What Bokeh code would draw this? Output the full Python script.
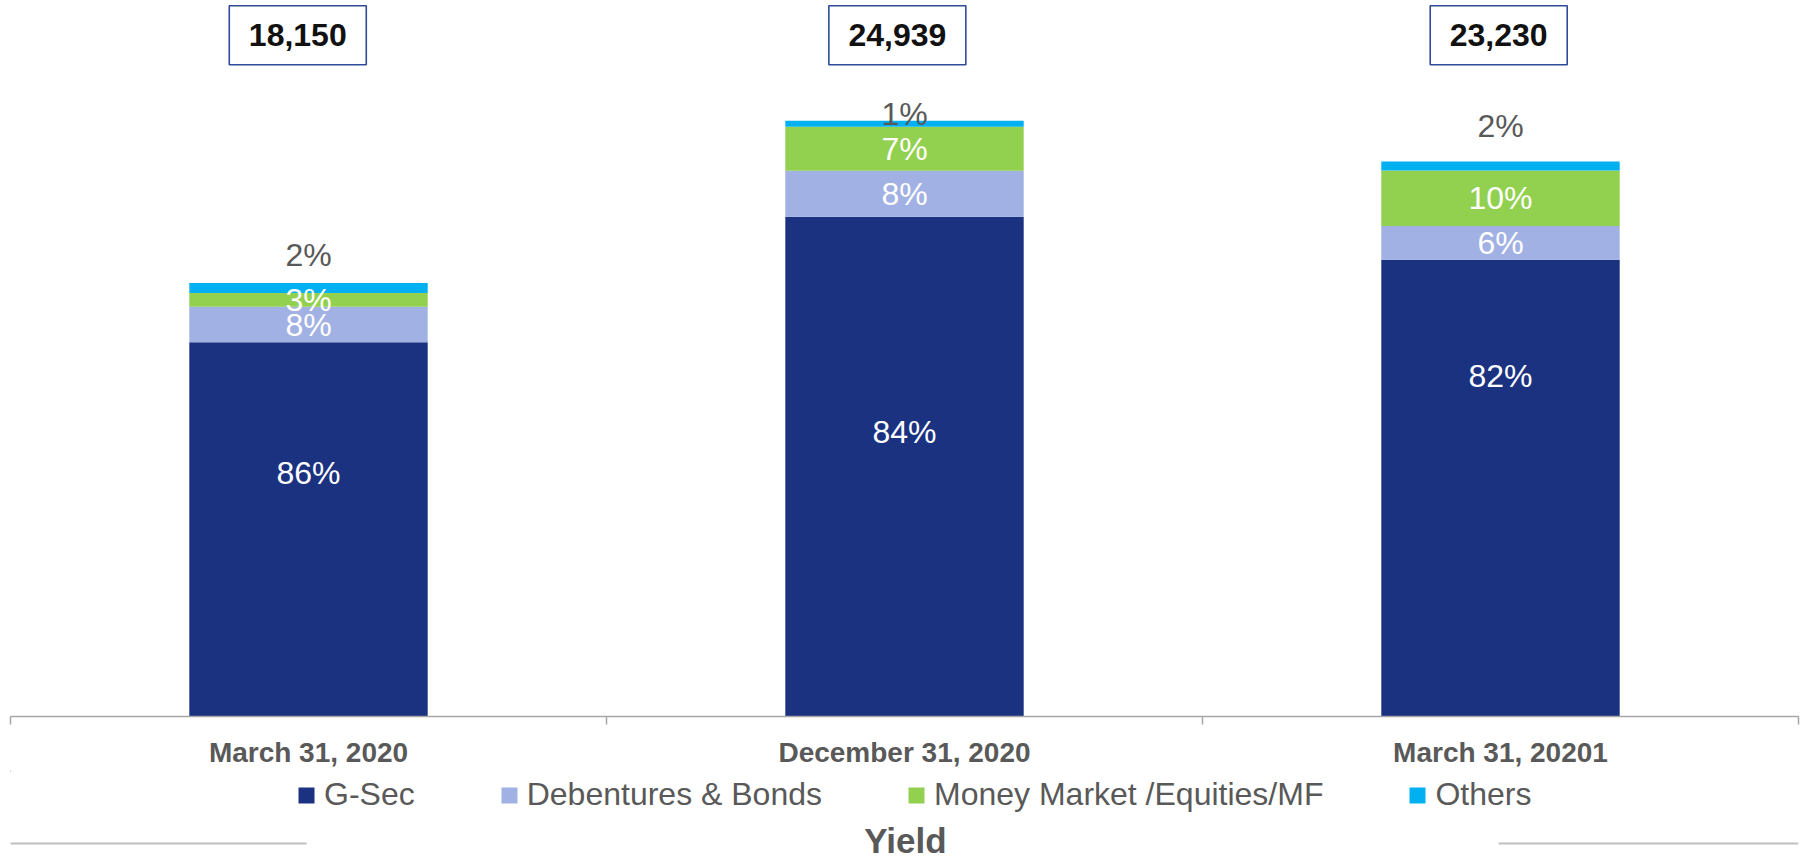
from bokeh.plotting import figure
from bokeh.models import ColumnDataSource, FixedTicker, Legend, LegendItem, Range1d
from bokeh.layouts import column
from bokeh.core.properties import value
from bokeh.embed import file_html
from bokeh.resources import INLINE

# ---------------- data ----------------
categories = ["March 31, 2020", "December 31, 2020", "March 31, 20201"]
totals = [18150, 24939, 23230]
series_names = ["G-Sec", "Debentures & Bonds", "Money Market /Equities/MF", "Others"]
g_sec = [86.3, 83.9, 82.3]          # % share
debentures = [8.2, 7.7, 6.1]
money_market = [3.2, 7.4, 10.0]
others = [2.3, 1.0, 1.6]

# ---------------- style ----------------
COLORS = ["#1B3281", "#A1B1E3", "#92D050", "#00B0F0"]
GREY = "#595959"
FONT = "Liberation Sans"
BAR_W = 0.4
GSEC_LABEL_FRAC = [0.65, 0.57, 0.745]   # label height inside the G-Sec segment
OTHERS_RAISE = [28, 7, 36]              # px above bar top for the "Others" label
BOX_DX = [-0.018, -0.012, -0.003]
FRAME_H = 720
Y_END = 29975
W = 1800

shares = [g_sec, debentures, money_market, others]
xs = [i + 0.5 for i in range(len(categories))]
keys = ["s0", "s1", "s2", "s3"]
data = {"x": xs}
for k, s in zip(keys, shares):
    data[k] = [t * v / 100.0 for t, v in zip(totals, s)]
src = ColumnDataSource(data)

p = figure(width=W, height=FRAME_H + 50, x_range=Range1d(0, 3), y_range=Range1d(0, Y_END),
           output_backend="svg", toolbar_location=None, y_axis_location=None,
           min_border_left=10, min_border_right=2, min_border_top=0, min_border_bottom=50)
p.outline_line_color = None
p.grid.visible = False

p.vbar_stack(keys, x="x", width=BAR_W, color=COLORS, line_color=None, source=src)

# percent labels
lx, ly, lt, lc, loff = [], [], [], [], []
for i in range(len(categories)):
    base = 0.0
    for j, k in enumerate(keys):
        h = data[k][i]
        if j == 0:
            y = base + h * GSEC_LABEL_FRAC[i]
            off = 0
            col = "white"
        elif j == 3:
            y = base + h
            off = -OTHERS_RAISE[i]
            col = GREY
        else:
            y = base + h / 2
            off = 0
            col = "white"
        lx.append(xs[i]); ly.append(y); lt.append(f"{round(shares[j][i])}%")
        lc.append(col); loff.append(off)
        base += h
lsrc = ColumnDataSource(dict(x=lx, y=ly, text=lt, color=lc, off=loff))
p.text(x="x", y="y", text="text", source=lsrc, text_color="color", y_offset="off",
       text_align="center", text_baseline="middle", text_font=value(FONT),
       text_font_size="32px")

# total boxes
box_y = Y_END * (1 - 35 / FRAME_H)
bx = [x + d for x, d in zip(xs, BOX_DX)]
bsrc = ColumnDataSource(dict(x=bx, y=[box_y] * 3, text=[f"{t:,}" for t in totals]))
p.rect(x="x", y="y", width=137, height=59, width_units="screen", height_units="screen",
       fill_color="white", line_color="#2F4A9A", line_width=1.6, source=bsrc)
p.text(x="x", y="y", text="text", source=bsrc, text_align="center", text_baseline="middle",
       text_font=value(FONT), text_font_style="bold", text_font_size="32px", text_color="#111111")

# axis
ax = p.xaxis[0]
ax.ticker = FixedTicker(ticks=xs, minor_ticks=[0, 1, 2, 3])
ax.major_label_overrides = {x: c for x, c in zip(xs, categories)}
ax.major_tick_line_color = None
ax.major_tick_out = 0
ax.major_tick_in = 0
ax.minor_tick_in = 0
ax.minor_tick_out = 8
ax.minor_tick_line_color = "#A6A6A6"
ax.minor_tick_line_width = 1.5
ax.axis_line_color = "#A6A6A6"
ax.axis_line_width = 1.5
ax.major_label_standoff = 12
ax.major_label_text_font = FONT
ax.major_label_text_font_style = "bold"
ax.major_label_text_font_size = "28px"
ax.major_label_text_color = GREY

# bottom strip: legend + "Yield"
H2 = 91
p2 = figure(width=W, height=H2, x_range=Range1d(0, W), y_range=Range1d(H2, 0),
            output_backend="svg", toolbar_location=None, x_axis_location=None,
            y_axis_location=None, min_border=0)
p2.outline_line_color = None
p2.grid.visible = False
swatches = [p2.vbar(x=[-1000], top=[1], width=1, color=c, line_color=None) for c in COLORS]
legend = Legend(items=[LegendItem(label=n, renderers=[r]) for n, r in zip(series_names, swatches)],
                orientation="horizontal", location=(286, 48), spacing=84,
                glyph_width=20, glyph_height=20, label_standoff=8, label_height=32,
                label_text_font=FONT, label_text_font_size="32px", label_text_color=GREY,
                border_line_color=None, background_fill_alpha=0, padding=0, margin=0)
p2.add_layout(legend)
p2.segment(x0=[0, 1498], y0=[73, 73], x1=[298, W], y1=[73, 73], line_color="#BFBFBF", line_width=2)
p2.text(x=[901], y=[70], text=["Yield"], text_align="center", text_baseline="middle",
        text_font=value(FONT), text_font_style="bold", text_font_size="35px", text_color=GREY)

layout = column(p, p2, spacing=0)
open("out.html", "w").write(file_html(layout, INLINE))
